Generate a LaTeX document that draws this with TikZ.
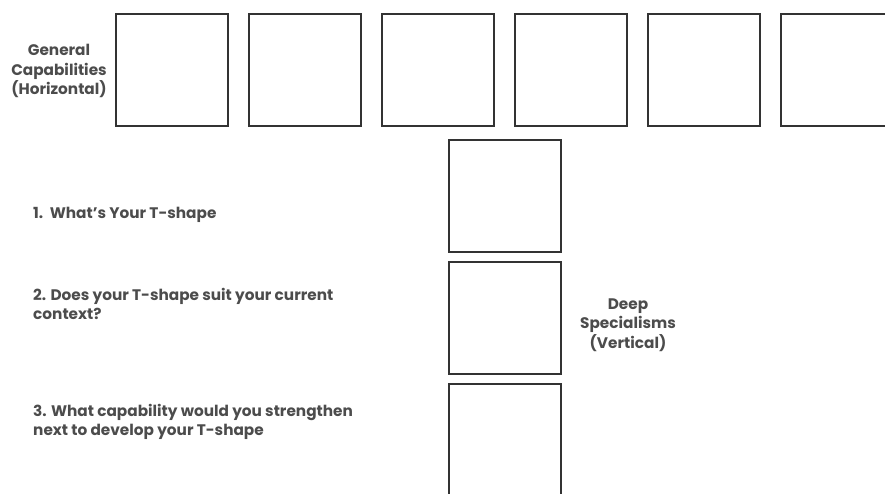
\documentclass[tikz,border=0pt]{standalone}
\usepackage{fontspec}
\setmainfont{Poppins}
\begin{document}
\begin{tikzpicture}[x=1pt,y=-1pt,
  cell/.style={draw=black!80,line width=2pt,minimum width=112pt,minimum height=112pt,inner sep=0pt},
  lbl/.style={text=black!70,font=\fontsize{15.3}{19.5}\selectfont\bfseries,inner sep=0pt},
]
\useasboundingbox (0,0) rectangle (885,493);
\clip (0,0) rectangle (885,493);
% top row
\node[cell] (h1) at (172,69.5) {};
\node[cell] (h2) at (305,69.5) {};
\node[cell] (h3) at (438,69.5) {};
\node[cell] (h4) at (571,69.5) {};
\node[cell] (h5) at (704,69.5) {};
\node[cell] (h6) at (837,69.5) {};
% vertical column
\node[cell] (v1) at (504.5,195.5) {};
\node[cell] (v2) at (504.5,317.5) {};
\node[cell] (v3) at (505,439.5) {};
% labels
\node[lbl,align=center] (gen) at (59,71) {General\\Capabilities\\(Horizontal)};
\node[lbl,align=center] (deep) at (628,325) {Deep\\Specialisms\\(Vertical)};
\node[lbl,anchor=west] (q1) at (33,215) {1.\ \ What’s Your T-shape};
\node[lbl,anchor=west,align=left] (q2) at (33,304) {2. Does your T-shape suit your current\\context?};
\node[lbl,anchor=west,align=left] (q3) at (33,422) {3. What capability would you strengthen\\next to develop your T-shape};
\end{tikzpicture}
\end{document}
